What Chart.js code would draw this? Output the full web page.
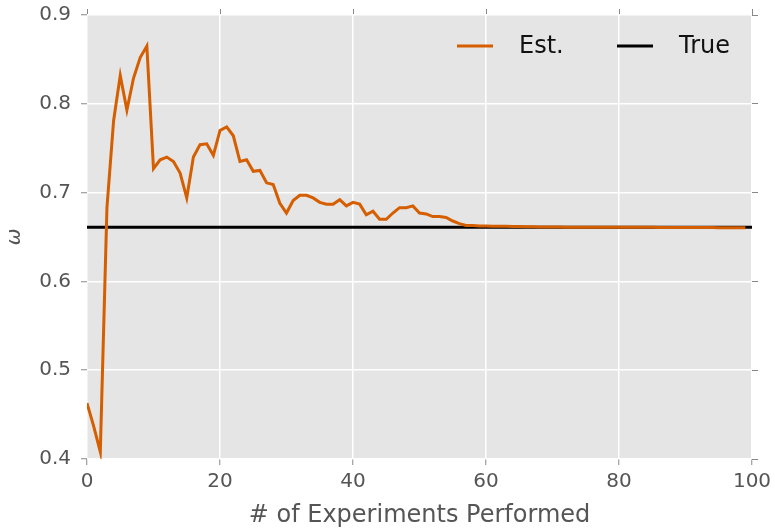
<!DOCTYPE html>
<html>
<head>
<meta charset="utf-8">
<script src="https://cdn.jsdelivr.net/npm/chart.js@4/dist/chart.umd.min.js"></script>
<style>
  html, body { margin: 0; padding: 0; background: #fff; }
  #wrap { width: 775px; height: 531px; }
</style>
</head>
<body>
<div id="wrap"><canvas id="omegaChart" width="775" height="531"></canvas></div>
<script>
// estimated omega after each experiment
const estValues = [
  0.463, 0.437, 0.408, 0.683, 0.781, 0.832, 0.793, 0.829, 0.852, 0.865,
  0.727, 0.737, 0.740, 0.735, 0.722, 0.694, 0.740, 0.754, 0.755, 0.742,
  0.770, 0.774, 0.764, 0.735, 0.737, 0.724, 0.725, 0.711, 0.709, 0.688,
  0.677, 0.691, 0.697, 0.697, 0.694, 0.689, 0.687, 0.687, 0.692, 0.685,
  0.689, 0.687, 0.675, 0.679, 0.670, 0.670, 0.677, 0.683, 0.683, 0.685,
  0.677, 0.676, 0.673, 0.673, 0.672, 0.668, 0.665, 0.663, 0.663, 0.6625,
  0.6625, 0.662, 0.662, 0.662, 0.6618, 0.6618, 0.6616, 0.6615, 0.6614, 0.6613,
  0.6612, 0.6612, 0.6611, 0.661, 0.661, 0.661, 0.661, 0.661, 0.661, 0.661,
  0.661, 0.661, 0.661, 0.661, 0.661, 0.661, 0.6608, 0.6608, 0.6608, 0.6607,
  0.6607, 0.6607, 0.6606, 0.6606, 0.6606, 0.6605, 0.6605, 0.6605, 0.6605, 0.6605
]
const experiments = estValues.map((v, i) => i)
const trueValue = 0.661
const trueRange = [0, 100]
const xTicks = [0, 20, 40, 60, 80, 100]
const yTicks = [0.4, 0.5, 0.6, 0.7, 0.8, 0.9]

const FONT = "'DejaVu Sans', sans-serif"

// grey panel behind the plot
const panelBg = {
  id: 'panelBg',
  beforeDraw(chart) {
    const { ctx, chartArea: a } = chart
    ctx.save()
    ctx.fillStyle = '#e5e5e5'
    ctx.fillRect(a.left, a.top, a.right - a.left, a.bottom - a.top)
    ctx.restore()
  }
}

// matplotlib-like legend, no frame
const lineLegend = {
  id: 'lineLegend',
  afterDraw(chart) {
    const { ctx, chartArea: a } = chart
    const y = a.top + 31
    let x = a.right - 295
    ctx.save()
    ctx.font = '24px ' + FONT
    ctx.textBaseline = 'middle'
    chart.data.datasets.forEach(ds => {
      ctx.strokeStyle = ds.borderColor
      ctx.lineWidth = ds.borderWidth
      ctx.beginPath()
      ctx.moveTo(x, y)
      ctx.lineTo(x + 36, y)
      ctx.stroke()
      ctx.fillStyle = '#111'
      ctx.fillText(ds.label, x + 62, y + 1)
      x += 160
    })
    ctx.restore()
  }
}

// fixed box sizes, no label overhang padding
function fixBox(w, h) {
  return function (s) {
    if (w !== null) s.width = w
    if (h !== null) s.height = h
    s.paddingTop = 0
    s.paddingBottom = 0
    s.paddingLeft = 0
    s.paddingRight = 0
  }
}

const ctx = document.getElementById('omegaChart').getContext('2d')

new Chart(ctx, {
  type: 'line',
  data: {
    datasets: [
      {
        label: 'Est.',
        data: experiments.map((e, i) => ({ x: e, y: estValues[i] })),
        borderColor: '#d55e00',
        borderWidth: 3,
        pointRadius: 0,
        tension: 0
      },
      {
        label: 'True',
        data: trueRange.map(x => ({ x: x, y: trueValue })),
        borderColor: '#000000',
        borderWidth: 3,
        pointRadius: 0,
        tension: 0
      }
    ]
  },
  options: {
    responsive: false,
    animation: false,
    layout: { padding: { top: 15, right: 23, left: 0, bottom: 0 } },
    plugins: {
      legend: { display: false },
      tooltip: { enabled: false }
    },
    scales: {
      x: {
        type: 'linear',
        min: 0,
        max: 100,
        afterFit: fixBox(null, 72),
        afterBuildTicks(s) { s.ticks = xTicks.map(v => ({ value: v })) },
        border: { display: false },
        grid: { color: '#ffffff', lineWidth: 1.5, tickColor: '#888', tickLength: 6, tickWidth: 1 },
        ticks: { font: { family: FONT, size: 20 }, color: '#555', padding: 5, maxRotation: 0 },
        title: {
          display: true,
          text: '# of Experiments Performed',
          font: { family: FONT, size: 24 },
          color: '#555',
          padding: { top: 0, bottom: 1 }
        }
      },
      x2: {
        type: 'linear',
        position: 'top',
        min: 0,
        max: 100,
        afterFit: fixBox(null, 0),
        afterBuildTicks(s) { s.ticks = xTicks.map(v => ({ value: v })) },
        border: { display: false },
        grid: { color: 'rgba(0,0,0,0)', tickColor: '#888', tickLength: 6, tickWidth: 1 },
        ticks: { display: false }
      },
      y: {
        min: 0.4,
        max: 0.9,
        afterFit: fixBox(87, null),
        afterBuildTicks(s) { s.ticks = yTicks.map(v => ({ value: v })) },
        border: { display: false },
        grid: { color: '#ffffff', lineWidth: 1.5, tickColor: '#888', tickLength: 6, tickWidth: 1 },
        ticks: {
          font: { family: FONT, size: 20 },
          color: '#555',
          padding: 10,
          callback: v => v.toFixed(1)
        },
        title: {
          display: true,
          text: 'ω',
          font: { family: FONT, size: 20, style: 'italic' },
          color: '#555',
          padding: { top: 3 }
        }
      },
      y2: {
        position: 'right',
        min: 0.4,
        max: 0.9,
        afterFit: fixBox(0, null),
        afterBuildTicks(s) { s.ticks = yTicks.map(v => ({ value: v })) },
        border: { display: false },
        grid: { color: 'rgba(0,0,0,0)', tickColor: '#888', tickLength: 6, tickWidth: 1 },
        ticks: { display: false }
      }
    }
  },
  plugins: [panelBg, lineLegend]
})
</script>
</body>
</html>
